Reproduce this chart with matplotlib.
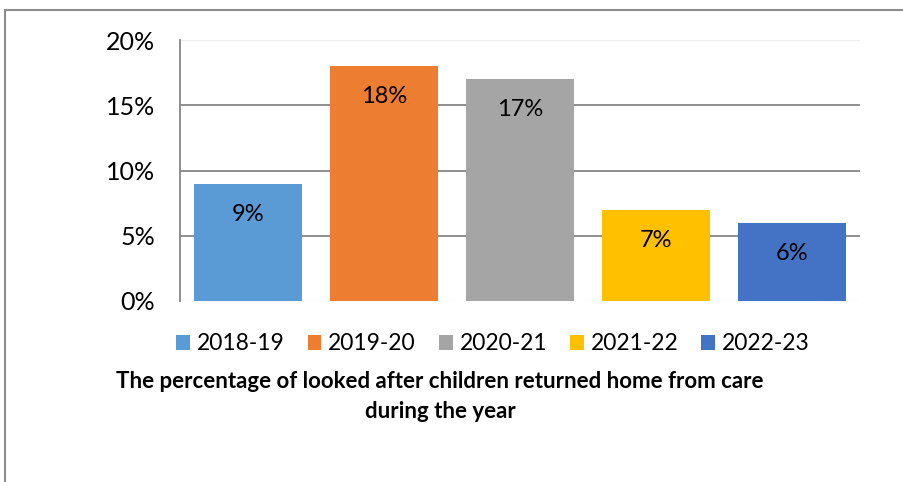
import matplotlib.pyplot as plt
from matplotlib.patches import Rectangle
from matplotlib.ticker import PercentFormatter

years = ['2018-19', '2019-20', '2020-21', '2021-22', '2022-23']
values = [9, 18, 17, 7, 6]
colors = ['#5B9BD5', '#ED7D31', '#A5A5A5', '#FFC000', '#4472C4']

plt.rcParams['font.family'] = ['Lato', 'DejaVu Sans']

fig = plt.figure(figsize=(9.04, 4.82), dpi=100)
ax = fig.add_axes([180 / 904, 1 - 301 / 482, 680 / 904, 261 / 482])

bars = []
for i in range(len(years)):
    b = ax.bar(i, values[i], width=0.79, color=colors[i], label=years[i], zorder=3)
    bars.append(b)
    ax.annotate(f'{values[i]}%', (i, values[i]), xytext=(0, -22), textcoords='offset points',
                ha='center', va='center', fontsize=17, color='black', zorder=4)

ax.set_xlim(-0.5, 4.5)
ax.set_ylim(0, 20)
ax.set_yticks([0, 5, 10, 15, 20])
ax.yaxis.set_major_formatter(PercentFormatter(decimals=0))
ax.set_xticks([])
ax.tick_params(axis='y', length=0, labelsize=18, pad=18)
for y in [5, 10, 15]:
    ax.axhline(y, color='#868686', lw=1.3, zorder=1)
ax.axhline(20, color='#EDEDED', lw=1, zorder=1)
ax.axhline(0, color='#EDEDED', lw=1, zorder=1)
for s in ['top', 'right', 'bottom']:
    ax.spines[s].set_visible(False)
ax.spines['left'].set_color('#868686')
ax.spines['left'].set_linewidth(1.3)

fig.legend(handles=[b[0] for b in bars], labels=years, loc='center',
           bbox_to_anchor=(493 / 904, 1 - 344 / 482), ncol=5, frameon=False,
           fontsize=16.5, handlelength=0.6, handleheight=0.6, handletextpad=0.3,
           columnspacing=1.0)

fig.text(440 / 904, 1 - 381 / 482, 'The percentage of looked after children returned home from care',
         ha='center', va='center', fontsize=16, fontweight='bold')
fig.text(440 / 904, 1 - 411 / 482, 'during the year',
         ha='center', va='center', fontsize=16, fontweight='bold')

fig.patches.append(Rectangle((5 / 904, -0.1), 1.1, 1 - 10 / 482 + 0.1, transform=fig.transFigure,
                             fill=False, edgecolor='#8C8C8C', lw=1.5))

fig.savefig('out.png', dpi=100)
